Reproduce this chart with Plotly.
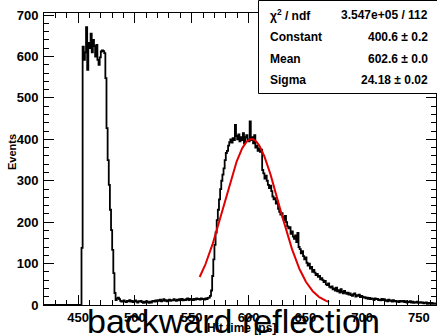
import numpy as np
import plotly.graph_objects as go

# Hit-time histogram: 1 ps bins starting at 420 ps
t_start = 420
events = (
    [0] * 33
    + [138, 624, 592, 610, 671, 568, 633, 620, 655, 610, 640, 625, 600, 628, 592,
       580, 598, 612, 615, 613, 608, 548, 427, 350, 290, 230, 181, 133, 77, 29, 12]
    + [16, 18, 14, 10, 8, 9, 11, 8, 7, 10, 9, 12, 8, 10, 7, 9, 11, 8, 6, 9,
       8, 10, 7, 5, 8, 6, 9, 7, 5, 8, 6, 9, 10, 8, 11, 9, 12, 10, 13, 9,
       11, 14, 10, 12, 9, 11, 13, 10, 12, 11, 14, 12, 10, 13, 11, 14, 12, 15, 11, 13,
       12, 14, 16, 12, 15, 13, 14, 12, 15, 13, 16, 14, 15, 13, 16, 14, 15, 13, 16, 14,
       17, 18, 22]
    + [35, 70, 110, 145, 175, 205, 230, 255, 280, 300, 315, 330, 350, 367, 372, 385,
       393, 400, 392, 403, 398, 435, 408, 400, 412, 395, 405, 398, 415, 390, 405, 410,
       400, 395, 443, 398, 405, 390, 410, 380, 385, 372, 378, 370, 375, 326, 318, 305,
       312, 300, 290, 282, 288, 275, 262, 255, 258, 245, 250, 232, 225, 218, 222, 212,
       205, 215, 200, 190, 185, 188, 172, 178, 165, 160, 168, 152, 174, 140, 135, 125,
       130, 118, 110, 115, 102, 95, 100, 88, 92, 80, 85, 78, 72, 75, 68, 70,
       62, 65, 60, 55, 58, 50, 48, 52, 44, 42, 45, 38, 40, 35, 42, 33,
       36, 30, 38, 32, 28, 34, 30, 27, 30, 25, 28, 24, 22, 26, 28, 20,
       24, 22, 25, 19, 22, 20, 18, 19, 16, 18, 15, 17, 14, 16, 15, 12,
       16, 14, 15, 12, 13, 11, 15, 12, 14, 10, 12, 9, 13, 10, 11, 8,
       12, 9, 10, 8, 9, 7, 10, 9, 8, 10, 7, 9, 6, 8, 7, 9,
       6, 8, 5, 7, 6, 8, 5, 6, 7, 5, 6, 4, 5, 6, 3, 5,
       4, 3, 5, 3, 4, 3]
)
edges = np.arange(t_start, t_start + len(events) + 1)

# Gaussian fit result
fit_constant = 400.6
fit_mean = 602.6
fit_sigma = 24.18
fit_range = (557.0, 671.0)

stat_names = ["χ<sup>2</sup> / ndf", "Constant", "Mean", "Sigma"]
stat_values = ["3.547e+05 / 112", "400.6 ± 0.2", "602.6 ± 0.0", "24.18 ± 0.02"]

x_range = [420, 765]
y_range = [0, 705]

W, H = 437, 335
L, R, T, B = 44, 1, 13, 30
pw, ph = W - L - R, H - T - B


def px_x(px):
    return (px - L) / pw


def px_y(py):
    return (H - B - py) / ph


FONT = "Liberation Sans, Arial, Helvetica, sans-serif"

fig = go.Figure()

fig.add_trace(go.Scatter(
    x=edges, y=events + [events[-1]],
    mode="lines", line=dict(color="black", width=1.8, shape="hv"),
    hoverinfo="skip", showlegend=False,
))

xf = np.linspace(fit_range[0], fit_range[1], 300)
yf = fit_constant * np.exp(-0.5 * ((xf - fit_mean) / fit_sigma) ** 2)
fig.add_trace(go.Scatter(
    x=xf, y=yf, mode="lines", line=dict(color="#e00000", width=2),
    hoverinfo="skip", showlegend=False,
))

axis_common = dict(
    showgrid=False, zeroline=False, showline=True, linecolor="black", linewidth=1,
    mirror="ticks", ticks="inside", ticklen=10, tickwidth=1, tickcolor="black",
    tickfont=dict(family=FONT, size=13, color="black", weight="bold"),
)

fig.update_xaxes(range=x_range, dtick=50, tick0=450,
                 minor=dict(dtick=10, ticks="inside", ticklen=5, tickcolor="black"),
                 ticklabelstandoff=0, **axis_common)
fig.update_yaxes(range=y_range, dtick=100, tick0=0,
                 minor=dict(dtick=20, ticks="inside", ticklen=5, tickcolor="black"),
                 ticklabelstandoff=2, **axis_common)

annotations = []
# Stats box text
row_y = [15, 37, 58.5, 80]
for name, val, yy in zip(stat_names, stat_values, row_y):
    annotations.append(dict(x=px_x(268), y=px_y(yy), xref="paper", yref="paper",
                            text=f"<b>{name}</b>", showarrow=False, xanchor="left",
                            yanchor="middle",
                            font=dict(family=FONT, size=12, color="black")))
    annotations.append(dict(x=px_x(430), y=px_y(yy), xref="paper", yref="paper",
                            text=f"<b>{val}</b>", showarrow=False, xanchor="right",
                            yanchor="middle",
                            font=dict(family=FONT, size=12, color="black")))

# Axis titles
annotations.append(dict(x=px_x(241), y=px_y(328), xref="paper", yref="paper",
                        text="<b>Hit time [ps]</b>", showarrow=False,
                        xanchor="center", yanchor="middle",
                        font=dict(family=FONT, size=12, color="black")))
annotations.append(dict(x=px_x(12), y=px_y(152), xref="paper", yref="paper",
                        text="<b>Events</b>", showarrow=False, textangle=-90,
                        xanchor="center", yanchor="middle",
                        font=dict(family=FONT, size=11, color="black")))
# Histogram title
annotations.append(dict(x=px_x(233), y=px_y(321), xref="paper", yref="paper",
                        text="backward reflection", showarrow=False,
                        xanchor="center", yanchor="middle",
                        font=dict(family=FONT, size=34, color="black")))

shapes = [dict(type="rect", xref="paper", yref="paper",
               x0=px_x(258.5), x1=px_x(440), y0=px_y(93.5), y1=px_y(0.5),
               line=dict(color="black", width=1), fillcolor="white", layer="above")]

fig.update_layout(
    width=W, height=H,
    margin=dict(l=L, r=R, t=T, b=B),
    paper_bgcolor="white", plot_bgcolor="white",
    annotations=annotations, shapes=shapes,
    showlegend=False,
)

fig.write_html("out.html")
